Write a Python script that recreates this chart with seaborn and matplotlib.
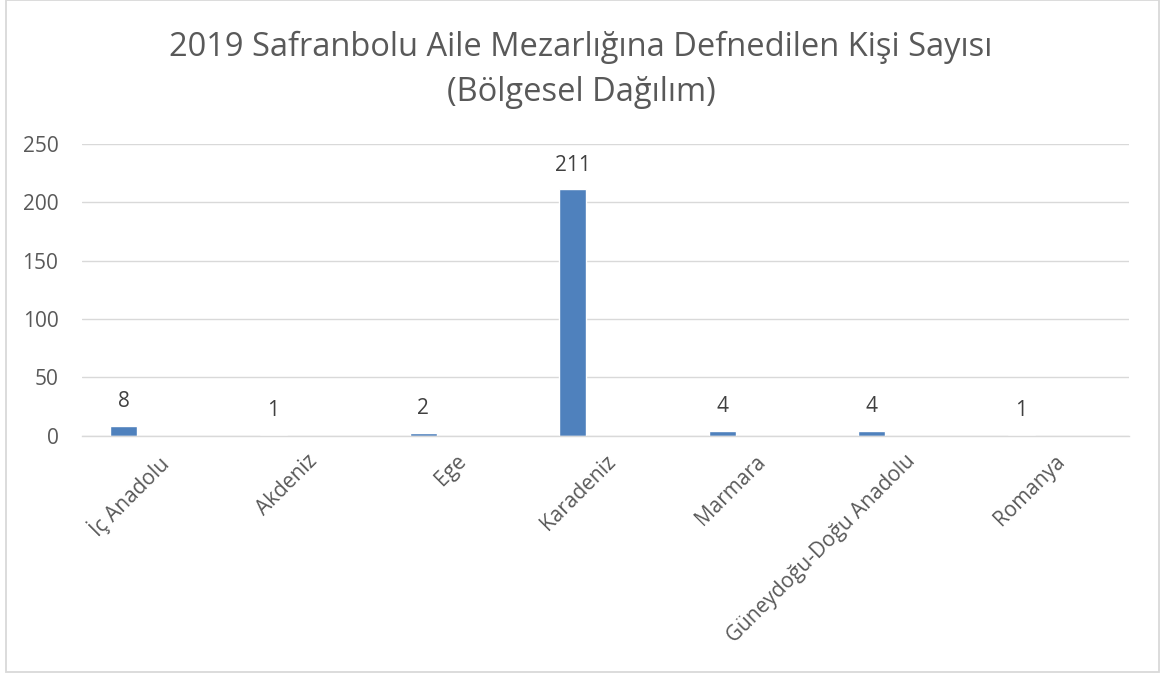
import matplotlib.pyplot as plt
import matplotlib.patches as mpatches
import seaborn as sns

# regional distribution of people buried in 2019
regions = ['İç Anadolu', 'Akdeniz', 'Ege', 'Karadeniz', 'Marmara',
           'Güneydoğu-Doğu Anadolu', 'Romanya']
counts = [8, 1, 2, 211, 4, 4, 1]
yticks = [0, 50, 100, 150, 200, 250]

sns.set_style("white")
plt.rcParams['font.family'] = ['Open Sans', 'DejaVu Sans']

fig = plt.figure(figsize=(11.62, 6.75), dpi=100)
ax = fig.add_axes([0.0706, 0.3545, 0.901, 0.4322])

sns.barplot(x=regions, y=counts, color='#4f81bd', width=0.18, saturation=1, ax=ax)

# excel style: bar sits left of the category centre
for p in ax.patches:
    p.set_x(p.get_x() - 0.22)

ax.bar_label(ax.containers[0], labels=[str(c) for c in counts], padding=10,
             fontsize=15, color='#404040')

ax.set_ylim(0, 250)
ax.set_xlim(-0.5, len(regions) - 0.5)
ax.set_yticks(yticks)
ax.set_yticklabels([str(t) for t in yticks], fontsize=15, color='#595959')
ax.set_xticks(range(len(regions)))
ax.set_xticklabels(regions, rotation=45, ha='right', va='top',
                   rotation_mode='anchor', fontsize=15, color='#595959')
ax.tick_params(axis='both', length=0)
ax.tick_params(axis='y', pad=17)
ax.tick_params(axis='x', pad=11)
ax.yaxis.grid(True, color='#d9d9d9', linewidth=1.0)
ax.set_axisbelow(True)
for s in ['top', 'right', 'left']:
    ax.spines[s].set_visible(False)
ax.spines['bottom'].set_color('#d9d9d9')
ax.spines['bottom'].set_linewidth(1.0)
ax.set_xlabel('')
ax.set_ylabel('')

fig.text(0.5, 0.917, '2019 Safranbolu Aile Mezarlığına Defnedilen Kişi Sayısı',
         ha='center', va='baseline', fontsize=23.5, color='#595959')
fig.text(0.5, 0.850, '(Bölgesel Dağılım)',
         ha='center', va='baseline', fontsize=23.5, color='#595959')

# chart area border
fig.patches.append(mpatches.Rectangle((0.005, 0.0044), 0.9924, 0.995,
                                      transform=fig.transFigure, fill=False,
                                      edgecolor='#d9d9d9', linewidth=1.3))

fig.savefig('out.png', dpi=100)
